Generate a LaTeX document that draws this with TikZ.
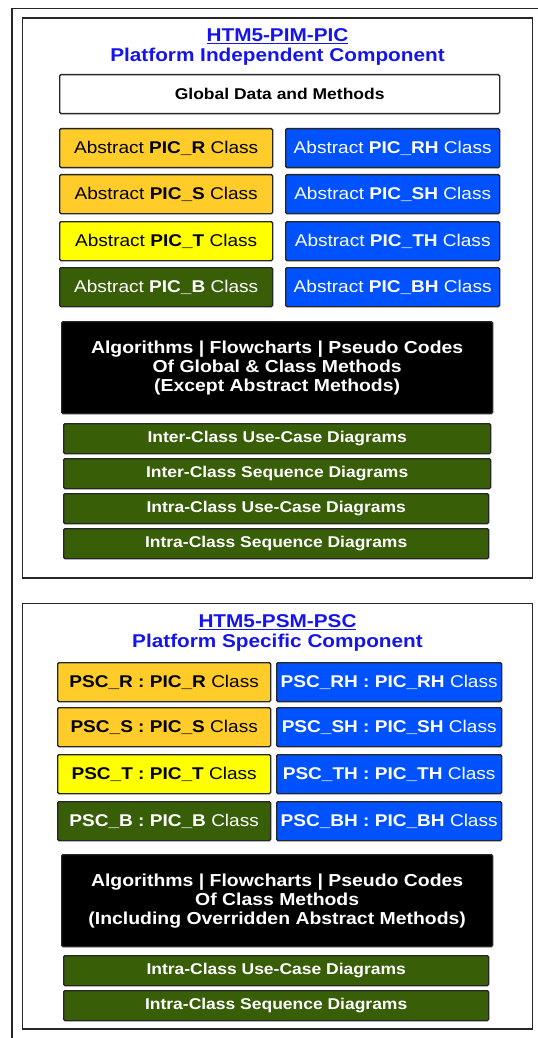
\documentclass[tikz,border=0pt]{standalone}
\usepackage{fontspec}
\setmainfont[FakeStretch=1.12]{Liberation Sans}
\definecolor{clsorange}{RGB}{255,204,41}
\definecolor{clsyellow}{RGB}{255,255,0}
\definecolor{clsgreen}{RGB}{56,95,8}
\definecolor{clsblue}{RGB}{0,82,255}
\definecolor{ttlblue}{RGB}{20,20,235}
\tikzset{every picture/.style={line width=0.75pt}}
\tikzset{
  cls/.style={draw=black!85, line width=1pt, rounded corners=1pt, inner sep=0pt, anchor=north west,
    minimum height=29.25pt, font=\fontsize{12.75}{14}\selectfont},
  clsl/.style={cls, minimum width=159.75pt},
  clsr/.style={cls, minimum width=160.5pt},
  pscr/.style={cls, minimum width=168.75pt},
  hard/.style={cls, fill=black, text=white, align=center, minimum width=323.25pt, minimum height=69pt,
    font=\bfseries\fontsize{13}{14.25}\selectfont},
  diag/.style={cls, fill=clsgreen, text=white, minimum height=22.5pt, font=\bfseries\fontsize{11.7}{13}\selectfont},
  comp/.style={draw=black!85, line width=1.1pt},
  ttl/.style={text=ttlblue, align=center, inner sep=0pt, font=\bfseries\fontsize{13.9}{15}\selectfont}
}

\begin{document}
\begin{tikzpicture}[x=0.75pt,y=0.75pt,yscale=-1,xscale=1]
\useasboundingbox (0,0) rectangle (537,1038);
% outer frame
\draw [line width=1.3pt, black!85] (12,1045) -- (12,8.5) -- (545,8.5) ;

% platform independent part
\draw [comp] (22.5,18) rectangle (532.5,578) ;
\node [ttl] (pimttl) at (277.5,47) {\underline{HTM5-PIM-PIC}\\Platform Independent Component};
\node [cls, fill=white, minimum width=330pt, font=\bfseries\fontsize{11.7}{13}\selectfont] (glob) at (59,74) {Global Data and Methods};

\node [clsl, fill=clsorange] (picr) at (59,128) {Abstract \textbf{PIC\_R} Class};
\node [clsl, fill=clsorange] (pics) at (59,174) {Abstract \textbf{PIC\_S} Class};
\node [clsl, fill=clsyellow] (pict) at (59,221) {Abstract \textbf{PIC\_T} Class};
\node [clsl, fill=clsgreen, text=white] (picb) at (59,267) {Abstract \textbf{PIC\_B} Class};
\node [clsr, fill=clsblue, text=white] (picrh) at (285,128) {Abstract \textbf{PIC\_RH} Class};
\node [clsr, fill=clsblue, text=white] (picsh) at (285,174) {Abstract \textbf{PIC\_SH} Class};
\node [clsr, fill=clsblue, text=white] (picth) at (285,221) {Abstract \textbf{PIC\_TH} Class};
\node [clsr, fill=clsblue, text=white] (picbh) at (285,267) {Abstract \textbf{PIC\_BH} Class};

\node [hard] (pimalg) at (61,321) {Algorithms | Flowcharts | Pseudo Codes\\Of Global \& Class Methods\\(Except Abstract Methods)};

\node [diag, minimum width=320.25pt] (interuc) at (63,423) {Inter-Class Use-Case Diagrams};
\node [diag, minimum width=320.25pt] (interseq) at (63,458) {Inter-Class Sequence Diagrams};
\node [diag, minimum width=318.75pt] (intrauc) at (63,493) {Intra-Class Use-Case Diagrams};
\node [diag, minimum width=318.75pt] (intraseq) at (63,528) {Intra-Class Sequence Diagrams};

% platform specific part
\draw [comp] (22.5,603.5) rectangle (532.5,1029) ;
\node [ttl] (psmttl) at (277.5,633) {\underline{HTM5-PSM-PSC}\\Platform Specific Component};

\node [clsl, fill=clsorange] (pscr) at (57,662) {\textbf{PSC\_R : PIC\_R} Class};
\node [clsl, fill=clsorange] (pscs) at (57,707) {\textbf{PSC\_S : PIC\_S} Class};
\node [clsl, fill=clsyellow] (psct) at (57,754) {\textbf{PSC\_T : PIC\_T} Class};
\node [clsl, fill=clsgreen, text=white] (pscb) at (57,801) {\textbf{PSC\_B : PIC\_B} Class};
\node [pscr, fill=clsblue, text=white] (pscrh) at (276,662) {\textbf{PSC\_RH : PIC\_RH} Class};
\node [pscr, fill=clsblue, text=white] (pscsh) at (276,707) {\textbf{PSC\_SH : PIC\_SH} Class};
\node [pscr, fill=clsblue, text=white] (pscth) at (276,754) {\textbf{PSC\_TH : PIC\_TH} Class};
\node [pscr, fill=clsblue, text=white] (pscbh) at (276,801) {\textbf{PSC\_BH : PIC\_BH} Class};

\node [hard] (psmalg) at (61,854) {Algorithms | Flowcharts | Pseudo Codes\\Of Class Methods\\(Including Overridden Abstract Methods)};

\node [diag, minimum width=318.75pt] (psmuc) at (63,955) {Intra-Class Use-Case Diagrams};
\node [diag, minimum width=318.75pt] (psmseq) at (63,990) {Intra-Class Sequence Diagrams};
\end{tikzpicture}
\end{document}
